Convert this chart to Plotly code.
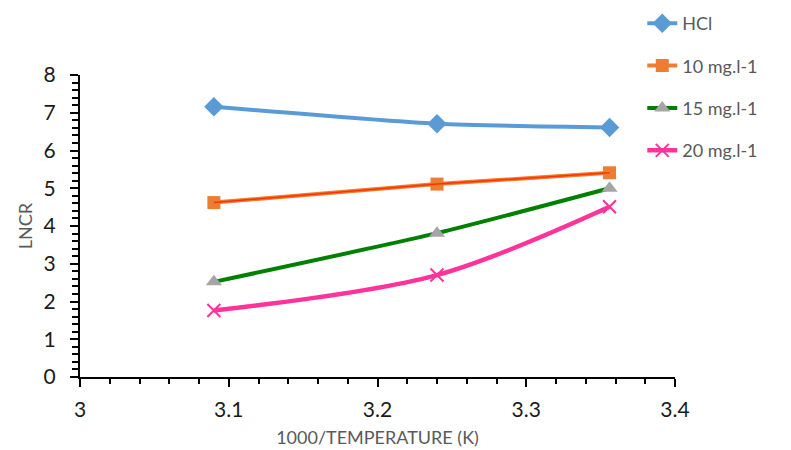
import plotly.graph_objects as go

x_vals = [3.09, 3.24, 3.356]
hcl = [7.16, 6.71, 6.61]
c10 = [4.62, 5.11, 5.41]
c15 = [2.52, 3.81, 5.0]
c20 = [1.76, 2.70, 4.51]
names = ["HCl", "10 mg.l-1", "15 mg.l-1", "20 mg.l-1"]

fig = go.Figure()
fig.add_trace(go.Scatter(x=x_vals, y=hcl, name=names[0], mode="lines+markers",
                         line=dict(color="#5B9BD5", width=4, shape="spline", smoothing=0.6),
                         marker=dict(symbol="diamond", size=15, color="#5B9BD5"),
                         legendgroup="a"))
fig.add_trace(go.Scatter(x=x_vals, y=c10, name=names[1], mode="lines+markers",
                         line=dict(color="#ED7D31", width=4, shape="spline", smoothing=0.6),
                         marker=dict(symbol="square", size=13, color="#ED7D31"),
                         legendgroup="b"))
fig.add_trace(go.Scatter(x=x_vals, y=c10, mode="lines", showlegend=False,
                         line=dict(color="#FF3300", width=1.5, shape="spline", smoothing=0.6),
                         hoverinfo="skip", legendgroup="b"))
fig.add_trace(go.Scatter(x=x_vals, y=c15, name=names[2], mode="lines+markers",
                         line=dict(color="#008000", width=4, shape="spline", smoothing=0.6),
                         marker=dict(symbol="triangle-up", size=14, color="#A5A5A5"),
                         legendgroup="c"))
fig.add_trace(go.Scatter(x=x_vals, y=c20, name=names[3], mode="lines+markers",
                         line=dict(color="#FF3399", width=4.5, shape="spline", smoothing=0.9),
                         marker=dict(symbol="x-thin", size=13, color="#FF3399",
                                     line=dict(color="#FF3399", width=2)),
                         legendgroup="d"))

fig.update_layout(
    width=791, height=450,
    margin=dict(l=80, r=116, t=75, b=73, autoexpand=False),
    paper_bgcolor="white", plot_bgcolor="white",
    font=dict(family="Lato, Open Sans, sans-serif", color="#595959"),
    legend=dict(x=0.945, y=1.232, xanchor="left", yanchor="top",
                font=dict(size=18, color="#595959"),
                traceorder="grouped", tracegroupgap=16,
                bgcolor="rgba(0,0,0,0)"),
    showlegend=True,
)
fig.update_xaxes(range=[3, 3.4], dtick=0.1, tick0=3,
                 showgrid=False, zeroline=False,
                 showline=True, linecolor="black", linewidth=2,
                 ticks="outside", ticklen=8, tickwidth=2, tickcolor="black",
                 minor=dict(dtick=0.02, ticks="outside", ticklen=5, tickwidth=1.5, tickcolor="black"),
                 tickfont=dict(size=21, color="#1a1a1a"), ticklabelstandoff=5,
                 title=dict(text="1000/TEMPERATURE (K)", font=dict(size=18, color="#595959"), standoff=11))
fig.update_yaxes(range=[0, 8], dtick=1, tick0=0,
                 showgrid=False, zeroline=False,
                 showline=True, linecolor="black", linewidth=2,
                 ticks="outside", ticklen=8, tickwidth=2, tickcolor="black",
                 minor=dict(dtick=0.2, ticks="outside", ticklen=6, tickwidth=1.5, tickcolor="black"),
                 tickfont=dict(size=21, color="#1a1a1a"), ticklabelstandoff=10,
                 title=dict(text="LNCR", font=dict(size=18, color="#595959"), standoff=6))

fig.write_html("out.html")
